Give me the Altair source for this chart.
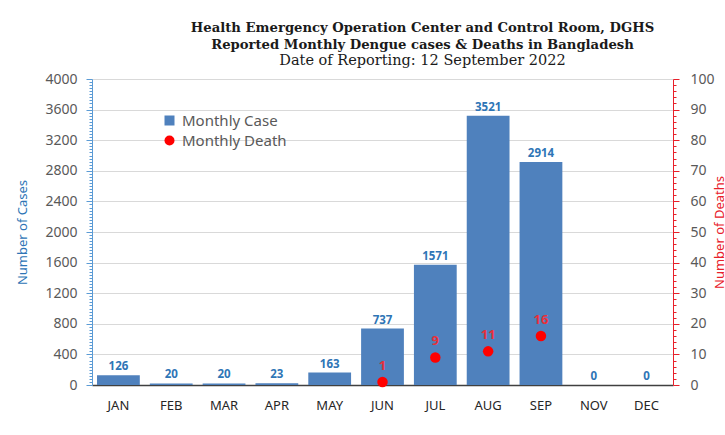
import altair as alt
import pandas as pd

months = ["JAN", "FEB", "MAR", "APR", "MAY", "JUN", "JUL", "AUG", "SEP", "OCT", "NOV", "DEC"]
cases = [126, 20, 20, 23, 163, 737, 1571, 3521, 2914, None, 0, 0]
deaths = [None, None, None, None, None, 1, 9, 11, 16, None, None, None]

df = pd.DataFrame({"month": months, "cases": cases, "deaths": deaths})

BLUE = "#4F81BD"
AXBLUE = "#5B9BD5"
LBLUE = "#2E75B6"
RED = "#FF0000"
GRAY = "#595959"

left_vals = list(range(0, 4001, 40))
right_vals = list(range(0, 101, 2))

series_scale_color = alt.Scale(domain=["Monthly Case", "Monthly Death"], range=[BLUE, RED])
series_scale_shape = alt.Scale(domain=["Monthly Case", "Monthly Death"], range=["square", "circle"])

x = alt.X("month:N", sort=months, title=None,
          scale=alt.Scale(paddingInner=0.19, paddingOuter=0.095),
          axis=alt.Axis(labelAngle=0, ticks=False, domainColor="#404040", domainWidth=1.5,
                        labelFontSize=13, labelColor="#262626", labelPadding=14,
                        labelFont="Noto Sans"))

left_axis = alt.Axis(
    values=left_vals, tickCount=len(left_vals), format="d",
    labelExpr="datum.value % 400 === 0 ? datum.label : ''",
    labelOverlap=False,
    title="Number of Cases", titleColor=LBLUE, titleFontSize=13, titleFontWeight="normal",
    titleFont="Noto Sans", titlePadding=15,
    labelFont="Noto Sans", labelFontSize=14, labelColor=GRAY, labelPadding=9,
    domainColor=AXBLUE, tickColor=AXBLUE,
    tickSize={"condition": {"test": "datum.value % 400 === 0", "value": 6}, "value": 3},
    gridColor="#D9D9D9",
    gridOpacity={"condition": {"test": "datum.value % 400 === 0", "value": 1}, "value": 0},
)

right_axis = alt.Axis(
    orient="right",
    values=right_vals, tickCount=len(right_vals), format="d",
    labelExpr="datum.value % 10 === 0 ? datum.label : ''",
    labelOverlap=False,
    title="Number of Deaths", titleColor="#E8202A", titleFontSize=13, titleFontWeight="normal",
    titleFont="Noto Sans", titleAngle=270, titlePadding=12,
    labelFont="Noto Sans", labelFontSize=14, labelColor=GRAY, labelPadding=11,
    domainColor="#E8202A", tickColor="#E8202A",
    tickSize={"condition": {"test": "datum.value % 10 === 0", "value": 6}, "value": 3},
    grid=False,
)

legend = alt.Legend(title=None, orient="none", legendX=70, legendY=34,
                    labelFontSize=15, labelColor=GRAY, labelFont="Noto Sans",
                    symbolSize=100, symbolStrokeWidth=0, rowPadding=4, labelOffset=5)

base = alt.Chart(df)

bars = base.transform_filter("isValid(datum.cases)").transform_calculate(
    series="'Monthly Case'"
).mark_bar().encode(
    x=x,
    y=alt.Y("cases:Q", scale=alt.Scale(domain=[0, 4000]), axis=left_axis),
    color=alt.Color("series:N", scale=series_scale_color, legend=legend),
)

bar_text = base.transform_filter("isValid(datum.cases)").mark_text(
    baseline="alphabetic", dy=-5, fontSize=11.5, fontWeight="bold", color=LBLUE, font="Noto Sans"
).encode(
    x=x,
    y=alt.Y("cases:Q", scale=alt.Scale(domain=[0, 4000])),
    text=alt.Text("cases:Q"),
)

pts = base.transform_filter("isValid(datum.deaths)").transform_calculate(
    series="'Monthly Death'"
).mark_point(filled=True, size=110, opacity=1).encode(
    x=x,
    y=alt.Y("deaths:Q", scale=alt.Scale(domain=[0, 100]), axis=right_axis),
    color=alt.Color("series:N", scale=series_scale_color, legend=legend),
    shape=alt.Shape("series:N", scale=series_scale_shape, legend=legend),
)

pt_text = base.transform_filter("isValid(datum.deaths)").mark_text(
    baseline="alphabetic", dy=-12, fontSize=13, fontWeight="bold", color="#E8303A",
    font="Noto Sans"
).encode(
    x=x,
    y=alt.Y("deaths:Q", scale=alt.Scale(domain=[0, 100])),
    text=alt.Text("deaths:Q"),
)

left = alt.layer(bars, bar_text)
right = alt.layer(pts, pt_text)

chart = alt.layer(left, right).resolve_scale(y="independent").properties(
    width=581, height=306,
    autosize=alt.AutoSizeParams(type="none"),
    padding={"left": 92, "top": 79, "right": 52, "bottom": 50},
    title=alt.Title(
        text=["Health Emergency Operation Center and Control Room, DGHS",
              "Reported Monthly Dengue cases & Deaths in Bangladesh"],
        subtitle="Date of Reporting: 12 September 2022",
        font="DejaVu Serif", fontSize=13.2, fontWeight="bold", color="#1a1a1a",
        subtitleFont="DejaVu Serif", subtitleFontSize=14.5, subtitleColor="#1a1a1a",
        lineHeight=17, subtitleLineHeight=17, subtitlePadding=1,
        anchor="middle", dx=40, offset=4,
    ),
).configure_view(stroke=None).configure(background="white")

chart.save("out.html", embed_options={"renderer": "svg", "actions": False})
